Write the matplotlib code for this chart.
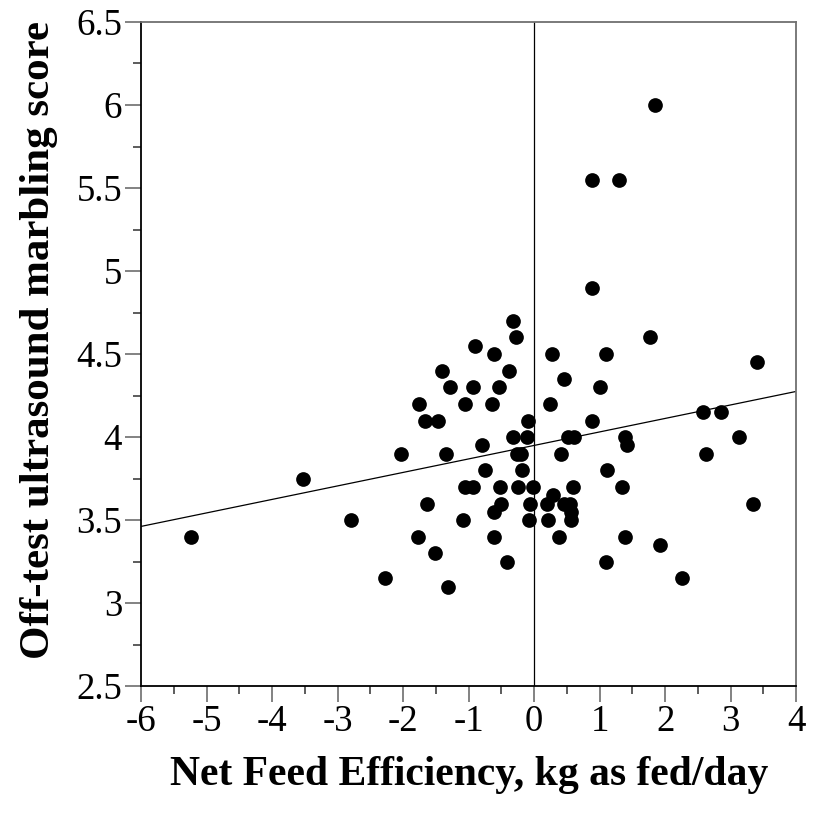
import matplotlib.pyplot as plt
from matplotlib.ticker import MultipleLocator

# net feed efficiency (kg as fed/day) and off-test marbling score per animal
nfe = [
    -5.24, -3.53, -2.79, -2.27, -2.03,
    -0.32, -0.27, -0.91, -0.61, 0.28, 1.09, 1.77,
    -1.40, -0.38, 0.45, -1.28, -0.94, -0.53, 1.01,
    -1.75, -1.06, -0.64, 0.24, -1.67, -1.46, -0.10, 0.885,
    -0.32, -0.11, 0.51, 0.61, 1.39, 1.42, -0.80,
    -1.34, -0.26, -0.20, 0.415, -0.75, -0.19, 1.11,
    -1.06, -0.94, -0.52, -0.24, -0.02, 0.60, 1.34, 0.29,
    -0.50, -1.64, -0.06, 0.19, 0.45, 0.55, -0.62, 0.56,
    -1.08, -0.08, 0.21, 0.56, -1.78, -0.61, 0.38, 1.38,
    1.92, -1.52, -0.41, 1.09, -1.32,
    1.85, 0.88, 1.30, 0.885, 3.40, 2.58, 2.85, 3.13, 2.63, 3.34, 2.26,
]
marbling = [
    3.40, 3.75, 3.50, 3.15, 3.90,
    4.70, 4.60, 4.55, 4.50, 4.50, 4.50, 4.60,
    4.40, 4.40, 4.35, 4.30, 4.30, 4.30, 4.30,
    4.20, 4.20, 4.20, 4.20, 4.10, 4.10, 4.10, 4.10,
    4.00, 4.00, 4.00, 4.00, 4.00, 3.95, 3.95,
    3.90, 3.90, 3.90, 3.90, 3.80, 3.80, 3.80,
    3.70, 3.70, 3.70, 3.70, 3.70, 3.70, 3.70, 3.65,
    3.60, 3.60, 3.60, 3.60, 3.60, 3.60, 3.55, 3.55,
    3.50, 3.50, 3.50, 3.50, 3.40, 3.40, 3.40, 3.40,
    3.35, 3.30, 3.25, 3.25, 3.10,
    6.00, 5.55, 5.55, 4.90, 4.45, 4.15, 4.15, 4.00, 3.90, 3.60, 3.15,
]

# regression line
fit_intercept = 3.95
fit_slope = 0.0813

plt.rcParams["font.family"] = ["Liberation Serif", "DejaVu Serif"]
plt.rcParams["axes.unicode_minus"] = False

fig = plt.figure(figsize=(8.15, 8.14), dpi=100)
ax = fig.add_axes([0.173, 0.157, 0.804, 0.816])

ax.scatter(nfe, marbling, s=112, color="black", zorder=3, linewidths=0)

xs = [-6, 4]
ax.plot(xs, [fit_intercept + fit_slope * x for x in xs], color="black", lw=0.9)
ax.axvline(0, color="black", lw=0.9)

ax.set_xlim(-6, 4)
ax.set_ylim(2.5, 6.5)
ax.xaxis.set_major_locator(MultipleLocator(1))
ax.xaxis.set_minor_locator(MultipleLocator(0.5))
ax.yaxis.set_major_locator(MultipleLocator(0.5))
ax.yaxis.set_minor_locator(MultipleLocator(0.25))
ax.yaxis.set_major_formatter(lambda v, p: f"{v:g}")

for side in ["left", "bottom"]:
    ax.spines[side].set_color("black")
    ax.spines[side].set_linewidth(1.3)
for side in ["top", "right"]:
    ax.spines[side].set_color("#707070")
    ax.spines[side].set_linewidth(1.3)

ax.tick_params(which="major", length=11.5, width=1.1, color="#606060",
               labelsize=26.5, pad=2)
ax.tick_params(which="minor", length=5.8, width=1.1, color="#303030")

ax.set_xlabel("Net Feed Efficiency, kg as fed/day", fontsize=30,
              fontweight="bold", labelpad=12)
ax.set_ylabel("Off-test ultrasound marbling score", fontsize=31,
              fontweight="bold")
ax.yaxis.set_label_coords(-0.127, 0.521)

fig.savefig("out.png", dpi=100)
